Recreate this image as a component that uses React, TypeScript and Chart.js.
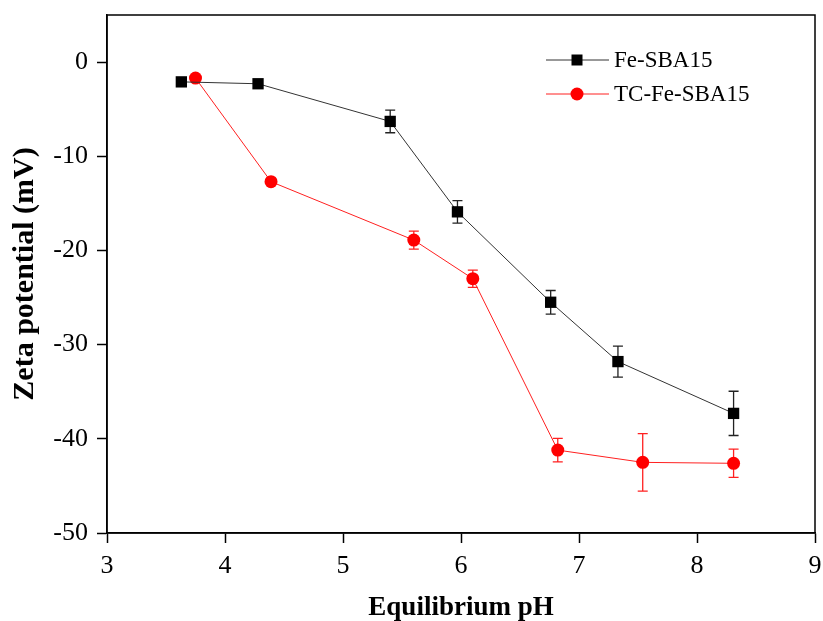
import React, { useEffect, useRef } from "react";
import { Chart, registerables } from "chart.js";

Chart.register(...registerables);

const seriesNames = ["Fe-SBA15", "TC-Fe-SBA15"];
const fePH = [3.63, 4.28, 5.40, 5.97, 6.76, 7.33, 8.31];
const feZeta = [-2.1, -2.3, -6.3, -15.9, -25.5, -31.8, -37.3];
const feErr = [0, 0, 1.2, 1.2, 1.25, 1.65, 2.35];
const tcPH = [3.75, 4.39, 5.60, 6.10, 6.82, 7.54, 8.31];
const tcZeta = [-1.7, -12.7, -18.9, -23.0, -41.2, -42.5, -42.6];
const tcErr = [0, 0, 0.95, 0.92, 1.25, 3.05, 1.5];
const xTicks = [3, 4, 5, 6, 7, 8, 9];
const yTicks = [0, -10, -20, -30, -40, -50];

const FONT = "'Liberation Serif', 'Times New Roman', serif";

export default function App() {
  const ref = useRef<HTMLCanvasElement | null>(null);

  useEffect(() => {
    document.body.style.margin = "0";
    const canvas = ref.current!;
    const errs = [feErr, tcErr];
    const colors = ["#000000", "#ff0000"];

    const errorBars = {
      id: "errorBars",
      beforeDatasetsDraw(chart: any) {
        const { ctx } = chart;
        const ys = chart.scales.y;
        chart.data.datasets.forEach((ds: any, i: number) => {
          const meta = chart.getDatasetMeta(i);
          ctx.save();
          ctx.strokeStyle = i === 0 ? "#222" : "#ff2020";
          ctx.lineWidth = 1.3;
          meta.data.forEach((pt: any, j: number) => {
            const e = errs[i][j];
            if (!e) return;
            const v = ds.data[j].y;
            const top = ys.getPixelForValue(v + e);
            const bot = ys.getPixelForValue(v - e);
            const x = pt.x;
            ctx.beginPath();
            ctx.moveTo(x, top);
            ctx.lineTo(x, bot);
            ctx.moveTo(x - 5, top);
            ctx.lineTo(x + 5, top);
            ctx.moveTo(x - 5, bot);
            ctx.lineTo(x + 5, bot);
            ctx.stroke();
          });
          ctx.restore();
        });
      },
    };

    const frameAndLegend = {
      id: "frameAndLegend",
      afterDraw(chart: any) {
        const { ctx, chartArea: a } = chart;
        ctx.save();
        ctx.strokeStyle = "#000";
        ctx.lineWidth = 1.5;
        ctx.strokeRect(a.left, a.top, a.right - a.left, a.bottom - a.top);
        // legend
        const x0 = a.right - 269;
        const rows = [a.top + 45, a.top + 79];
        seriesNames.forEach((name, i) => {
          const y = rows[i];
          ctx.strokeStyle = i === 0 ? "#333" : "#ff2020";
          ctx.lineWidth = 1;
          ctx.beginPath();
          ctx.moveTo(x0, y);
          ctx.lineTo(x0 + 63, y);
          ctx.stroke();
          ctx.fillStyle = colors[i];
          ctx.beginPath();
          if (i === 0) {
            ctx.rect(x0 + 31 - 5.5, y - 5.5, 11, 11);
          } else {
            ctx.arc(x0 + 31, y, 6.5, 0, Math.PI * 2);
          }
          ctx.fill();
          ctx.fillStyle = "#000";
          ctx.font = `23px ${FONT}`;
          ctx.textAlign = "left";
          ctx.textBaseline = "middle";
          ctx.fillText(name, x0 + 68, y + 1);
        });
        ctx.restore();
      },
    };

    const chart = new Chart(canvas, {
      type: "line",
      data: {
        datasets: [
          {
            label: seriesNames[0],
            data: fePH.map((x, i) => ({ x, y: feZeta[i] })),
            borderColor: "#333333",
            borderWidth: 1,
            backgroundColor: "#000000",
            pointStyle: "rect",
            pointRadius: 8,
            pointBorderColor: "#000",
            pointBorderWidth: 0,
          },
          {
            label: seriesNames[1],
            data: tcPH.map((x, i) => ({ x, y: tcZeta[i] })),
            borderColor: "#ff2020",
            borderWidth: 1,
            backgroundColor: "#ff0000",
            pointStyle: "circle",
            pointRadius: 6.5,
            pointBorderColor: "#ff0000",
            pointBorderWidth: 0,
          },
        ],
      },
      options: {
        animation: false,
        responsive: false,
        layout: { padding: { top: 15, right: 7, left: 0, bottom: 0 } },
        plugins: { legend: { display: false }, tooltip: { enabled: false } },
        scales: {
          x: {
            type: "linear",
            min: 3,
            max: 9,
            afterBuildTicks: (s: any) => {
              s.ticks = xTicks.map((v) => ({ value: v }));
            },
            afterFit: (s: any) => {
              s.height = 88;
              s.paddingLeft = 0;
              s.paddingRight = 0;
            },
            grid: {
              drawOnChartArea: false,
              drawTicks: true,
              tickLength: 10,
              tickWidth: 1.5,
              color: "#000",
            },
            border: { color: "#000", width: 1.5 },
            ticks: {
              color: "#000",
              font: { family: FONT, size: 26 },
              padding: 8,
              maxRotation: 0,
            },
            title: {
              display: true,
              text: "Equilibrium pH",
              color: "#000",
              font: { family: FONT, size: 27, weight: "bold" },
              padding: { top: 4, bottom: -3 },
            },
          },
          y: {
            type: "linear",
            min: -50,
            max: 5,
            afterBuildTicks: (s: any) => {
              s.ticks = yTicks.map((v) => ({ value: v }));
            },
            afterFit: (s: any) => {
              s.width = 107;
              s.paddingTop = 0;
              s.paddingBottom = 0;
            },
            grid: {
              drawOnChartArea: false,
              drawTicks: true,
              tickLength: 10,
              tickWidth: 1.5,
              color: "#000",
            },
            border: { color: "#000", width: 1.5 },
            ticks: {
              color: "#000",
              font: { family: FONT, size: 26 },
              padding: 9,
            },
            title: {
              display: true,
              text: "Zeta potential (mV)",
              color: "#000",
              font: { family: FONT, size: 30, weight: "bold" },
              padding: { top: 7, bottom: 0 },
            },
          },
        },
      },
      plugins: [errorBars, frameAndLegend],
    } as any);

    return () => chart.destroy();
  }, []);

  return (
    <div style={{ position: "absolute", left: 0, top: 0, width: 823, height: 621, background: "#fff" }}>
      <canvas ref={ref} width={823} height={621} style={{ display: "block", width: 823, height: 621 }} />
    </div>
  );
}
